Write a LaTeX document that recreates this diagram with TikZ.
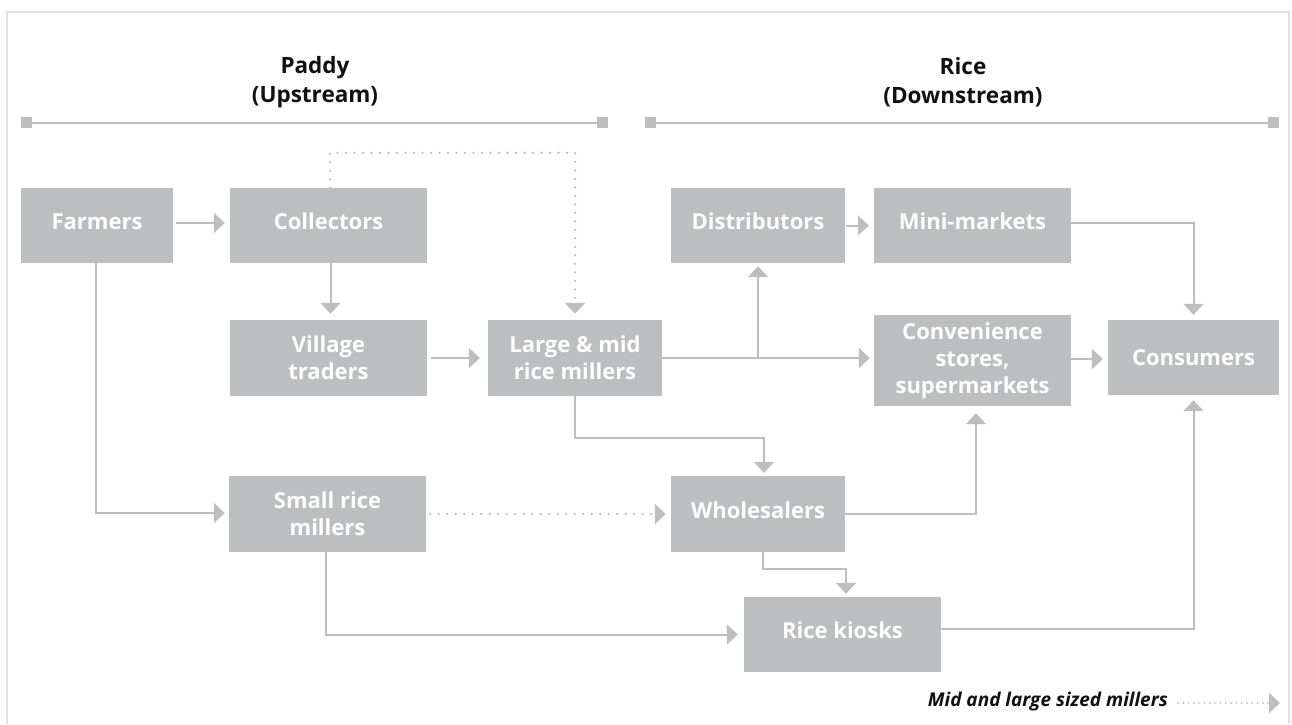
\documentclass[tikz,border=0pt]{standalone}
\usepackage{fontspec}
\setmainfont{Open Sans}
\usetikzlibrary{arrows.meta,calc}
\definecolor{boxgray}{HTML}{BDBEC0}
\definecolor{linegray}{HTML}{BDBEC0}
\definecolor{framegray}{HTML}{E2E2E2}
\definecolor{titleblack}{HTML}{111111}
\tikzset{
  box/.style={fill=boxgray, text=white, align=center, inner sep=0pt,
    font=\bfseries\fontsize{22}{27}\selectfont},
  boxw/.style={box, minimum width=197pt},
  boxm/.style={box, minimum width=174pt},
  oneline/.style={text height=16pt, text depth=8pt},
  arr/.style={draw=linegray, line width=2pt, -{Triangle[width=20pt,length=11pt]}},
  dotarr/.style={arr, line width=2.6pt, dash pattern=on 0pt off 8.5pt, line cap=round},
  title/.style={align=center, text=titleblack, inner sep=0pt,
    font=\bfseries\fontsize{22.5}{29}\selectfont},
  bracketline/.style={draw=linegray, line width=2pt},
  endsq/.style={fill=linegray},
}
\begin{document}
\begin{tikzpicture}[x=1pt,y=-1pt]
\useasboundingbox (0,0) rectangle (1292,724);
% frame
\draw[framegray, line width=2pt] (7,724) -- (7,12) -- (1289,12) -- (1289,724);

% titles
\node[title] (paddy) at (315,82.5) {Paddy\\(Upstream)};
\node[title] (rice) at (963,82.5) {Rice\\(Downstream)};

% brackets
\draw[bracketline] (26,122.5) -- (603,122.5);
\fill[endsq] (21,117) rectangle (32,128);
\fill[endsq] (597,117) rectangle (608,128);
\draw[bracketline] (650,122.5) -- (1274,122.5);
\fill[endsq] (645,117) rectangle (656,128);
\fill[endsq] (1268,117) rectangle (1279,128);

% boxes
\node[box, oneline, minimum width=152pt, minimum height=75pt] (farmers) at (97,225.5) {Farmers};
\node[boxw, oneline, minimum height=75pt] (collectors) at (328.5,225.5) {Collectors};
\node[boxw, minimum height=76pt] (village) at (328.5,358) {Village\\traders};
\node[boxm, minimum height=76pt] (large) at (575,358) {Large \& mid\\rice millers};
\node[boxm, oneline, minimum height=75pt] (distrib) at (758,225.5) {Distributors};
\node[boxw, oneline, minimum height=75pt] (mini) at (972.5,225.5) {Mini-markets};
\node[boxw, minimum height=91pt] (conv) at (972.5,360.5) {Convenience\\stores,\\supermarkets};
\node[box, minimum width=171pt, minimum height=75pt] (consumers) at (1193.5,357.5) {Consumers};
\node[boxw, minimum height=76pt] (small) at (327.5,514) {Small rice\\millers};
\node[boxm, oneline, minimum height=76pt] (whole) at (758,514) {Wholesalers};
\node[boxw, oneline, minimum height=75pt] (kiosks) at (842.5,634.5) {Rice kiosks};

% connectors
\draw[arr] ([xshift=3pt,yshift=2.5pt]farmers.east) -- ([xshift=-5pt,yshift=2.5pt]collectors.west);
\draw[arr] ([xshift=-1pt]farmers.south) |- ([xshift=-4pt,yshift=1pt]small.west);
\draw[arr] ([xshift=2pt]collectors.south) -- ([xshift=2pt,yshift=6pt]village.north);
\draw[dotarr] ([xshift=1.5pt]collectors.north) -- ++(0,-35) -| ([yshift=6pt]large.north);
\draw[arr] ([xshift=4pt]village.east) -- ([xshift=-8pt]large.west);
\coordinate (branch) at (distrib.south |- large.east);
\draw[arr] (large.east) -- ([xshift=-4pt]conv.west |- large.east);
\draw[arr] (branch) -- ([yshift=-3pt]distrib.south);
\draw[arr] ([xshift=1pt]distrib.east) -- ([xshift=-5pt]mini.west);
\draw[arr] ([yshift=2.5pt]mini.east) -| ([yshift=5pt]consumers.north);
\draw[arr] ([yshift=1.5pt]conv.east) -- ([xshift=-5pt,yshift=1.5pt]consumers.west |- conv.east);
\draw[arr] (large.south) -- ++(0,42) -| ([xshift=6pt,yshift=3pt]whole.north);
\draw[dotarr] ([xshift=4pt]small.east) -- ([xshift=-5pt]whole.west);
\draw[arr] (whole.east) -| ([xshift=3.5pt,yshift=-7pt]conv.south);
\draw[arr] ([xshift=5pt]whole.south) -- ++(0,17) -| ([xshift=3.5pt,yshift=3pt]kiosks.north);
\draw[arr] ([xshift=-1.5pt]small.south) |- ([xshift=-6pt]kiosks.west);
\draw[arr] ([yshift=5.5pt]kiosks.east) -| ([yshift=-5pt]consumers.south);

% legend
\node[anchor=east, inner sep=0pt, text=titleblack,
  font=\bfseries\itshape\fontsize{19}{23}\selectfont] (legend) at (1168,702) {Mid and large sized millers};
\coordinate (legendend) at (1280,703);
\draw[draw=linegray, line width=2pt, dash pattern=on 0pt off 5.3pt, line cap=round,
  -{Triangle[width=20pt,length=11pt]}] ([xshift=10pt,yshift=-1pt]legend.east) -- (legendend);
\end{tikzpicture}
\end{document}
